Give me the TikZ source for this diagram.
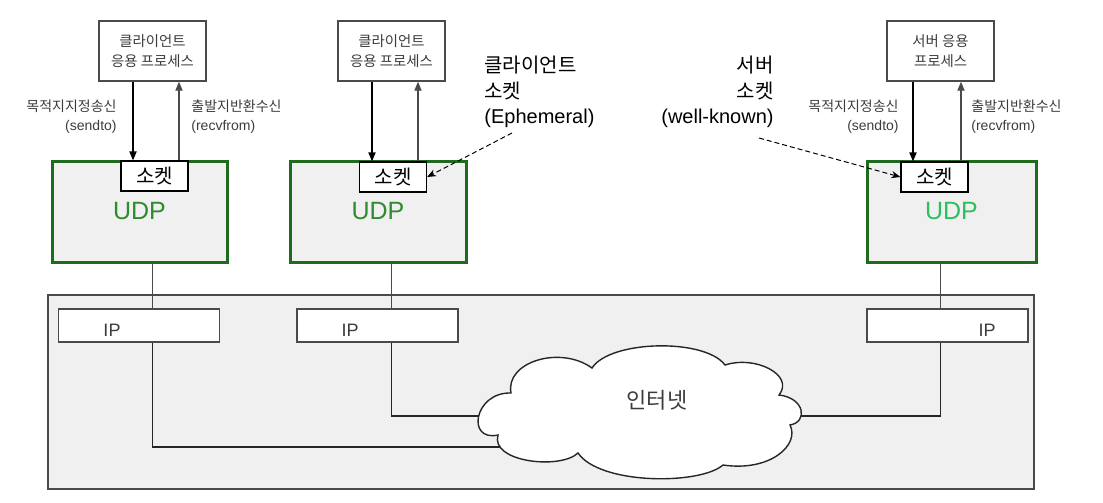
\documentclass[tikz,border=0pt]{standalone}
\usepackage{fontspec}
\setmainfont{Liberation Sans}
\newfontfamily\kr{Noto Sans CJK KR}
\usepackage{xcolor}
\usepackage{tikz}
\usetikzlibrary{arrows.meta}
\definecolor{udpc}{HTML}{1E6B1E}
\definecolor{udpt}{HTML}{2E8B2E}
\definecolor{udpl}{HTML}{2DBE60}
\definecolor{boxbg}{HTML}{F0F0F0}
\definecolor{txtc}{HTML}{3C3C3C}
\definecolor{linec}{HTML}{4A4A4A}
\tikzset{
  appbox/.style={draw=linec,fill=white,line width=0.7pt,minimum width=53.5pt,minimum height=30pt,align=center,font=\kr\fontsize{7.2}{10}\selectfont,text=txtc,inner sep=0pt},
  udpbox/.style={draw=udpc,line width=1.5pt,fill=boxbg,minimum height=50.5pt,font=\fontsize{12.5}{14}\selectfont,text=udpt,inner sep=0pt},
  sockbox/.style={draw=black,fill=white,line width=0.6pt,minimum width=33.5pt,minimum height=15pt,font=\kr\fontsize{10}{12}\selectfont,inner sep=0pt},
  ipbox/.style={draw=linec,fill=white,line width=0.6pt,minimum width=80.5pt,minimum height=16.5pt,inner sep=0pt},
  iptxt/.style={font=\fontsize{9}{10}\selectfont,text=txtc,inner sep=0pt},
  lbl/.style={font=\fontsize{7}{9.5}\selectfont,text=txtc,inner sep=0pt},
  big/.style={font=\fontsize{10}{12.8}\selectfont,inner sep=0pt},
  ar/.style={-{Triangle[length=4.5pt,width=3.6pt]},line width=0.6pt},
  ra/.style={{Triangle[length=4.5pt,width=3.6pt]}-,line width=0.6pt,linec},
  dar/.style={-{Stealth[length=4.5pt,width=3.6pt]},line width=0.5pt,dash pattern=on 2.5pt off 1.5pt},
  wire/.style={line width=0.75pt,black!85}
}

\begin{document}
\begin{tikzpicture}[x=0.5pt,y=-0.5pt]
\useasboundingbox (0,0) rectangle (1103,503);
% network area
\node[draw=linec,fill=boxbg,line width=0.6pt,minimum width=493pt,minimum height=97pt,inner sep=0pt] (inet) at (541,392) {};
% application processes
\node[appbox] (app1) at (152.5,51) {클라이언트\\응용 프로세스};
\node[appbox] (app2) at (391.5,51) {클라이언트\\응용 프로세스};
\node[appbox] (app3) at (940.5,51) {서버 응용\\프로세스};
% UDP blocks with sockets
\node[udpbox,minimum width=87.5pt] (udp1) at (139.5,211.5) {UDP};
\node[udpbox,minimum width=88pt] (udp2) at (378,211.5) {UDP};
\node[udpbox,minimum width=84.5pt,text=udpl] (udp3) at (951.5,211.5) {UDP};
\node[sockbox] (sock1) at (154.5,176) {소켓};
\node[sockbox] (sock2) at (393,177) {소켓};
\node[sockbox] (sock3) at (934.5,177) {소켓};
% send / receive calls
\draw[ar] ([xshift=-9.75pt]app1.south) -- ([xshift=-9.75pt]app1.south |- sock1.north);
\draw[ra] ([xshift=13.25pt]app1.south) -- ([xshift=13.25pt]app1.south |- sock1.north);
\draw[ar] ([xshift=-9.75pt]app2.south) -- ([xshift=-9.75pt]app2.south |- sock2.north);
\draw[ra] ([xshift=13.25pt]app2.south) -- ([xshift=13.25pt]app2.south |- sock2.north);
\draw[ar] ([xshift=-13.75pt]app3.south) -- ([xshift=-13.75pt]app3.south |- sock3.north);
\draw[ra] ([xshift=10.25pt]app3.south) -- ([xshift=10.25pt]app3.south |- sock3.north);
\node[lbl,anchor=east,align=right] (snd1) at (117,117) {{\kr 목적지지정송신}\\(sendto)};
\node[lbl,anchor=west,align=left] (rcv1) at (191,117) {{\kr 출발지반환수신}\\(recvfrom)};
\node[lbl,anchor=east,align=right] (snd3) at (899,117) {{\kr 목적지지정송신}\\(sendto)};
\node[lbl,anchor=west,align=left] (rcv3) at (971,117) {{\kr 출발지반환수신}\\(recvfrom)};
% socket callouts
\node[big,anchor=west,align=left] (eph) at (484,92) {{\kr 클라이언트}\\{\kr 소켓}\\(Ephemeral)};
\node[big,anchor=east,align=right] (wkn) at (774,92) {{\kr 서버}\\{\kr 소켓}\\(well-known)};
\coordinate (ephtail) at (512,133);
\coordinate (wkntail) at (759,138);
\draw[dar] (ephtail) -- (sock2.east);
\draw[dar] (wkntail) -- (sock3.west);
% IP layer
\node[ipbox] (ip1) at (139,325.5) {};
\node[ipbox] (ip2) at (377.5,325.5) {};
\node[ipbox] (ip3) at (947.5,325.5) {};
\node[iptxt] (ip1t) at (112,330) {IP};
\node[iptxt] (ip2t) at (350,330) {IP};
\node[iptxt] (ip3t) at (987,330) {IP};
\draw[linec,line width=0.5pt] (app1 |- udp1.south) -- (app1 |- ip1.north);
\draw[linec,line width=0.5pt] (app2 |- udp2.south) -- (app2 |- ip2.north);
\draw[linec,line width=0.5pt] (app3 |- udp3.south) -- (app3 |- ip3.north);
% links into the internet
\coordinate (netlo) at (520,447);
\coordinate (netc) at (639,416);
\draw[wire] (app1 |- ip1.south) |- (netlo);
\draw[wire] (app2 |- ip2.south) |- (netc);
\draw[wire] (app3 |- ip3.south) |- (netc);
% cloud
\filldraw[draw=black!85,fill=white,line width=0.7pt]
  (498,435) .. controls (466,442) and (474,392) .. (511,393)
  .. controls (505,362) and (560,345) .. (592,368)
  .. controls (610,340) and (705,338) .. (725,365)
  .. controls (755,355) and (795,375) .. (779,395)
  .. controls (805,398) and (808,422) .. (790,425)
  .. controls (800,445) and (770,472) .. (723,465)
  .. controls (700,485) and (600,485) .. (578,453)
  .. controls (560,470) and (490,462) .. cycle;
\node[font=\kr\fontsize{11}{12}\selectfont,text=txtc,inner sep=0pt] (nett) at (657,400) {인터넷};
\end{tikzpicture}
\end{document}
